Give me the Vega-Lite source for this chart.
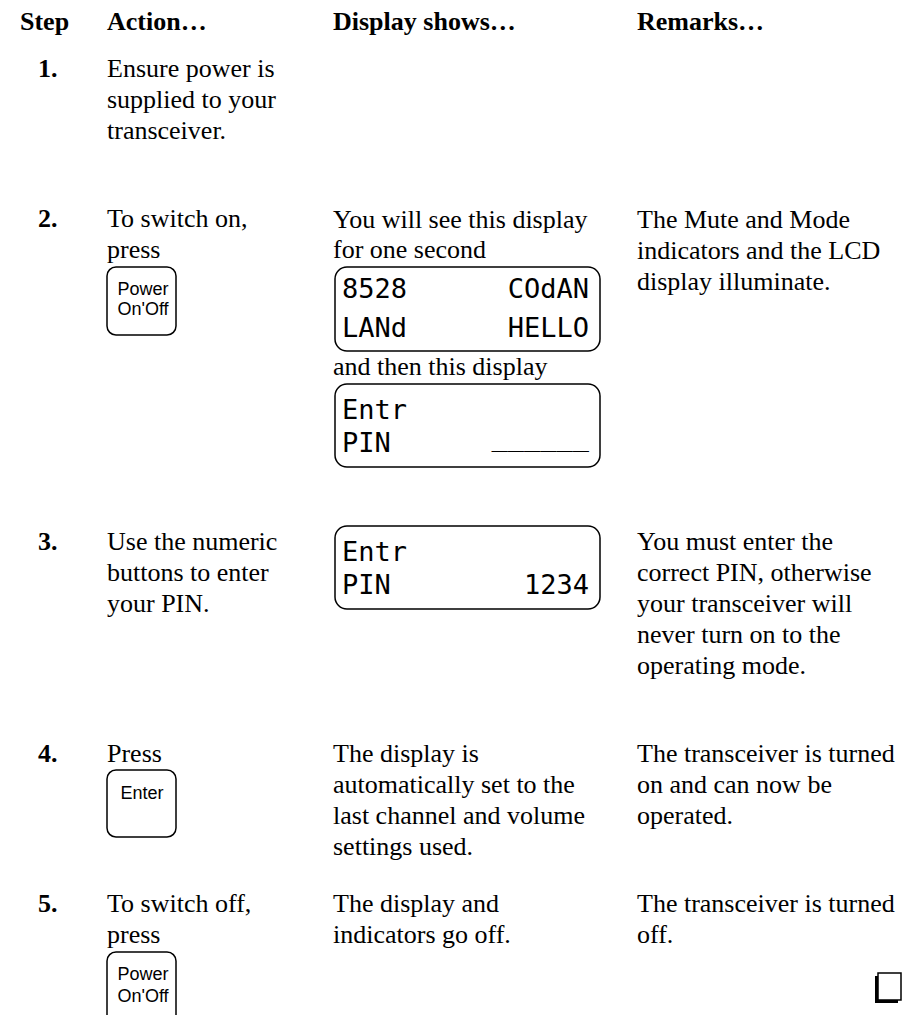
{
  "$schema": "https://vega.github.io/schema/vega-lite/v6.json",
  "width": 903,
  "height": 1015,
  "autosize": {"type": "none"},
  "padding": 0,
  "background": "white",
  "config": {"view": {"stroke": null}},
  "datasets": {
    "boxes": [
      {"kind": "key", "x": 107, "x2": 176, "y": 267, "y2": 335},
      {"kind": "lcd", "x": 335, "x2": 600, "y": 267, "y2": 351},
      {"kind": "lcd", "x": 335, "x2": 600, "y": 384, "y2": 467},
      {"kind": "lcd", "x": 335, "x2": 600, "y": 526, "y2": 609},
      {"kind": "key", "x": 107, "x2": 176, "y": 770, "y2": 837},
      {"kind": "key", "x": 107, "x2": 176, "y": 952, "y2": 1024},
      {"kind": "shadow", "x": 875, "x2": 898, "y": 976, "y2": 1003},
      {"kind": "end", "x": 878, "x2": 901, "y": 973, "y2": 1000}
    ],
    "texts": [
      {"kind": "header", "x": 20, "y": 30, "text": "Step"},
      {"kind": "header", "x": 107, "y": 30, "text": "Action…"},
      {"kind": "header", "x": 333, "y": 30, "text": "Display shows…"},
      {"kind": "header", "x": 637, "y": 30, "text": "Remarks…"},
      {"kind": "header", "x": 38, "y": 77, "text": "1."},
      {"kind": "header", "x": 38, "y": 227, "text": "2."},
      {"kind": "header", "x": 38, "y": 550, "text": "3."},
      {"kind": "header", "x": 38, "y": 762, "text": "4."},
      {"kind": "header", "x": 38, "y": 912, "text": "5."},
      {"kind": "body", "x": 107, "y": 77, "text": "Ensure power is"},
      {"kind": "body", "x": 107, "y": 108, "text": "supplied to your"},
      {"kind": "body", "x": 107, "y": 139, "text": "transceiver."},
      {"kind": "body", "x": 107, "y": 227, "text": "To switch on,"},
      {"kind": "body", "x": 107, "y": 258, "text": "press"},
      {"kind": "body", "x": 107, "y": 550, "text": "Use the numeric"},
      {"kind": "body", "x": 107, "y": 581, "text": "buttons to enter"},
      {"kind": "body", "x": 107, "y": 612, "text": "your PIN."},
      {"kind": "body", "x": 107, "y": 762, "text": "Press"},
      {"kind": "body", "x": 107, "y": 912, "text": "To switch off,"},
      {"kind": "body", "x": 107, "y": 943, "text": "press"},
      {"kind": "body", "x": 333, "y": 228, "text": "You will see this display"},
      {"kind": "body", "x": 333, "y": 258, "text": "for one second"},
      {"kind": "body", "x": 333, "y": 375, "text": "and then this display"},
      {"kind": "body", "x": 333, "y": 762, "text": "The display is"},
      {"kind": "body", "x": 333, "y": 793, "text": "automatically set to the"},
      {"kind": "body", "x": 333, "y": 824, "text": "last channel and volume"},
      {"kind": "body", "x": 333, "y": 855, "text": "settings used."},
      {"kind": "body", "x": 333, "y": 912, "text": "The display and"},
      {"kind": "body", "x": 333, "y": 943, "text": "indicators go off."},
      {"kind": "body", "x": 637, "y": 228, "text": "The Mute and Mode"},
      {"kind": "body", "x": 637, "y": 259, "text": "indicators and the LCD"},
      {"kind": "body", "x": 637, "y": 290, "text": "display illuminate."},
      {"kind": "body", "x": 637, "y": 550, "text": "You must enter the"},
      {"kind": "body", "x": 637, "y": 581, "text": "correct PIN, otherwise"},
      {"kind": "body", "x": 637, "y": 612, "text": "your transceiver will"},
      {"kind": "body", "x": 637, "y": 643, "text": "never turn on to the"},
      {"kind": "body", "x": 637, "y": 674, "text": "operating mode."},
      {"kind": "body", "x": 637, "y": 762, "text": "The transceiver is turned"},
      {"kind": "body", "x": 637, "y": 793, "text": "on and can now be"},
      {"kind": "body", "x": 637, "y": 824, "text": "operated."},
      {"kind": "body", "x": 637, "y": 912, "text": "The transceiver is turned"},
      {"kind": "body", "x": 637, "y": 943, "text": "off."},
      {"kind": "key", "x": 143, "y": 295, "text": "Power"},
      {"kind": "key", "x": 143, "y": 315, "text": "On'Off"},
      {"kind": "key", "x": 142, "y": 799, "text": "Enter"},
      {"kind": "key", "x": 143, "y": 980, "text": "Power"},
      {"kind": "key", "x": 143, "y": 1002, "text": "On'Off"},
      {"kind": "lcd", "x": 342, "y": 298, "text": "8528"},
      {"kind": "lcd", "x": 342, "y": 337, "text": "LANd"},
      {"kind": "lcd", "x": 342, "y": 419, "text": "Entr"},
      {"kind": "lcd", "x": 342, "y": 452, "text": "PIN"},
      {"kind": "lcd", "x": 342, "y": 561, "text": "Entr"},
      {"kind": "lcd", "x": 342, "y": 594, "text": "PIN"},
      {"kind": "lcdR", "x": 589, "y": 298, "text": "COdAN"},
      {"kind": "lcdR", "x": 589, "y": 337, "text": "HELLO"},
      {"kind": "lcdR", "x": 589, "y": 446, "text": "______"},
      {"kind": "lcdR", "x": 589, "y": 594, "text": "1234"}
    ]
  },
  "encoding": {
    "x": {"field": "x", "type": "quantitative", "scale": {"domain": [0, 903], "nice": false, "zero": false}, "axis": null},
    "y": {"field": "y", "type": "quantitative", "scale": {"domain": [0, 1015], "nice": false, "zero": false, "reverse": true}, "axis": null}
  },
  "layer": [
    {
      "data": {"name": "boxes"},
      "transform": [{"filter": "datum.kind === 'shadow'"}],
      "mark": {"type": "rect", "fill": "black"},
      "encoding": {"x2": {"field": "x2"}, "y2": {"field": "y2"}}
    },
    {
      "data": {"name": "boxes"},
      "transform": [{"filter": "datum.kind === 'end'"}],
      "mark": {"type": "rect", "fill": "white", "stroke": "black", "strokeWidth": 1.5},
      "encoding": {"x2": {"field": "x2"}, "y2": {"field": "y2"}}
    },
    {
      "data": {"name": "boxes"},
      "transform": [{"filter": "datum.kind === 'key'"}],
      "mark": {"type": "rect", "fill": "white", "stroke": "black", "strokeWidth": 1.5, "cornerRadius": 9},
      "encoding": {"x2": {"field": "x2"}, "y2": {"field": "y2"}}
    },
    {
      "data": {"name": "boxes"},
      "transform": [{"filter": "datum.kind === 'lcd'"}],
      "mark": {"type": "rect", "fill": "white", "stroke": "black", "strokeWidth": 1.5, "cornerRadius": 12},
      "encoding": {"x2": {"field": "x2"}, "y2": {"field": "y2"}}
    },
    {
      "data": {"name": "texts"},
      "transform": [{"filter": "datum.kind === 'header'"}],
      "mark": {"type": "text", "align": "left", "baseline": "alphabetic", "font": "Liberation Serif", "fontSize": 26, "fontWeight": "bold", "color": "black"},
      "encoding": {"text": {"field": "text"}}
    },
    {
      "data": {"name": "texts"},
      "transform": [{"filter": "datum.kind === 'body'"}],
      "mark": {"type": "text", "align": "left", "baseline": "alphabetic", "font": "Liberation Serif", "fontSize": 26, "color": "black"},
      "encoding": {"text": {"field": "text"}}
    },
    {
      "data": {"name": "texts"},
      "transform": [{"filter": "datum.kind === 'key'"}],
      "mark": {"type": "text", "align": "center", "baseline": "alphabetic", "font": "Liberation Sans", "fontSize": 18, "color": "black"},
      "encoding": {"text": {"field": "text"}}
    },
    {
      "data": {"name": "texts"},
      "transform": [{"filter": "datum.kind === 'lcd'"}],
      "mark": {"type": "text", "align": "left", "baseline": "alphabetic", "font": "DejaVu Sans Mono", "fontSize": 27, "color": "black"},
      "encoding": {"text": {"field": "text"}}
    },
    {
      "data": {"name": "texts"},
      "transform": [{"filter": "datum.kind === 'lcdR'"}],
      "mark": {"type": "text", "align": "right", "baseline": "alphabetic", "font": "DejaVu Sans Mono", "fontSize": 27, "color": "black"},
      "encoding": {"text": {"field": "text"}}
    }
  ]
}
